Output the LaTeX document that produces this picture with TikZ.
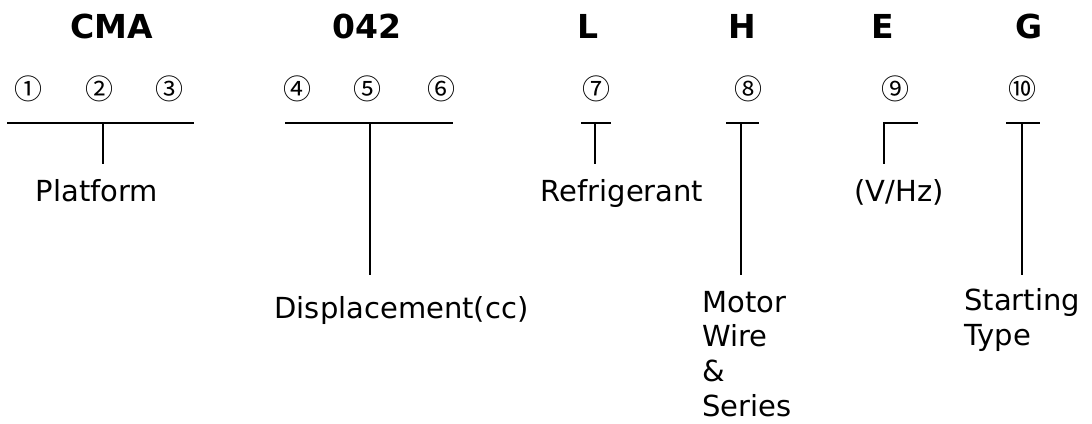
\documentclass[tikz,border=0pt]{standalone}
\usepackage{fontspec}
\setmainfont{DejaVu Sans}
\newfontfamily\cjkfont{Noto Sans CJK JP}
\begin{document}
\begin{tikzpicture}[x=0.75pt,y=-0.75pt,
  head/.style={font=\fontsize{24.75}{28}\selectfont\bfseries, inner sep=0pt, anchor=base},
  circ/.style={font=\cjkfont\fontsize{21}{24}\selectfont, inner sep=0pt, anchor=center},
  lbl/.style={font=\fontsize{21.75}{26}\selectfont, inner sep=0pt, anchor=base},
  mlbl/.style={font=\fontsize{21.75}{26}\selectfont, inner sep=0pt, align=left, anchor=base west},
  bar/.style={line width=1.5pt}]
\useasboundingbox (0,0) rectangle (1092,424);
% headings
\node[head] (hCMA) at (112,39) {CMA};
\node[head] (h042) at (367,39) {042};
\node[head] (hL) at (588,39) {L};
\node[head] (hH) at (742,39) {H};
\node[head] (hE) at (883,39) {E};
\node[head] (hG) at (1029,39) {G};
% circled numbers
\node[circ] (c1) at (28,89) {①};
\node[circ] (c2) at (99,89) {②};
\node[circ] (c3) at (169,89) {③};
\node[circ] (c4) at (297,89) {④};
\node[circ] (c5) at (367,89) {⑤};
\node[circ] (c6) at (441,89) {⑥};
\node[circ] (c7) at (596,89) {⑦};
\node[circ] (c8) at (748,89) {⑧};
\node[circ] (c9) at (895,89) {⑨};
\node[circ] (c10) at (1022,89) {⑩};
% bar coordinates
\coordinate (a1) at (7,123); \coordinate (a2) at (194,123);
\coordinate (a3) at (103,123); \coordinate (a4) at (103,164);
\coordinate (b1) at (285,123); \coordinate (b2) at (453,123);
\coordinate (b3) at (370,123); \coordinate (b4) at (370,275);
\coordinate (l1) at (581,123); \coordinate (l2) at (611,123);
\coordinate (l3) at (595,123); \coordinate (l4) at (595,164);
\coordinate (m1) at (726,123); \coordinate (m2) at (759,123);
\coordinate (m3) at (741,123); \coordinate (m4) at (741,275);
\coordinate (e1) at (884,123); \coordinate (e2) at (918,123);
\coordinate (e4) at (884,164);
\coordinate (g1) at (1006,123); \coordinate (g2) at (1040,123);
\coordinate (g3) at (1022,123); \coordinate (g4) at (1022,275);
\draw[bar] (a1) -- (a2) (a3) -- (a4);
\draw[bar] (b1) -- (b2) (b3) -- (b4);
\draw[bar] (l1) -- (l2) (l3) -- (l4);
\draw[bar] (m1) -- (m2) (m3) -- (m4);
\draw[bar] (e2) -- (e1) -- (e4);
\draw[bar] (g1) -- (g2) (g3) -- (g4);
% labels
\node[lbl] (platform) at (97,201.7) {Platform};
\node[lbl] (disp) at (401.5,318) {Displacement(cc)};
\node[lbl] (refr) at (622,201.7) {Refrigerant};
\node[lbl] (vhz) at (899,201.7) {(V/Hz)};
\node[mlbl] (motor) at (702,416) {Motor\\Wire\\\&\\Series};
\node[mlbl] (start) at (964,345) {Starting\\Type};
\end{tikzpicture}
\end{document}
